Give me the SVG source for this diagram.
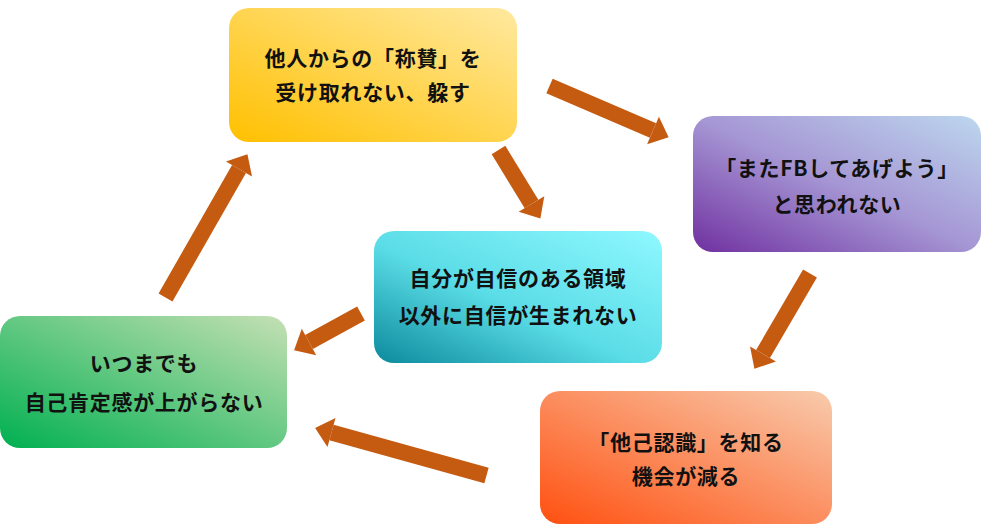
<svg xmlns="http://www.w3.org/2000/svg" width="983" height="529" viewBox="0 0 983 529">
<defs>
<linearGradient id="gY" x1="0" y1="1" x2="1" y2="0"><stop offset="0" stop-color="#FFC000"/><stop offset="1" stop-color="#FFE9A0"/></linearGradient>
<linearGradient id="gP" x1="0" y1="1" x2="1" y2="0"><stop offset="0" stop-color="#7030A0"/><stop offset="0.5" stop-color="#A596D4"/><stop offset="1" stop-color="#BDD7EE"/></linearGradient>
<linearGradient id="gG" x1="0" y1="1" x2="1" y2="0"><stop offset="0" stop-color="#00B050"/><stop offset="1" stop-color="#C5E0B4"/></linearGradient>
<linearGradient id="gC" x1="0" y1="1" x2="1" y2="0"><stop offset="0" stop-color="#0B8A9C"/><stop offset="0.45" stop-color="#5ADCE6"/><stop offset="1" stop-color="#8FF8FF"/></linearGradient>
<linearGradient id="gO" x1="0" y1="1" x2="1" y2="0"><stop offset="0" stop-color="#FF5010"/><stop offset="1" stop-color="#F8CBAD"/></linearGradient>
<marker id="ah" markerUnits="userSpaceOnUse" markerWidth="20" markerHeight="32" refX="0" refY="15" orient="auto" viewBox="0 0 20 30" overflow="visible">
<path d="M0,0 L17,15 L0,30 Z" fill="#C55A11"/>
</marker>
</defs>
<style>
.box{stroke:none}
.t{font-family:"Noto Sans CJK JP","Noto Sans",sans-serif;font-weight:700;font-size:21px;letter-spacing:0.7px;fill:#111;text-anchor:middle}
.c{stroke:#C55A11;stroke-width:16;fill:none;marker-end:url(#ah)}
</style>
<rect width="983" height="529" fill="#fff"/>
<g id="connectors">
<line class="c" x1="549.5" y1="86" x2="653" y2="130.5"/>
<line class="c" x1="498.5" y1="150" x2="531.5" y2="204"/>
<line class="c" x1="165.5" y1="297.5" x2="239" y2="169"/>
<line class="c" x1="361" y1="313.5" x2="309" y2="342"/>
<line class="c" x1="486.5" y1="475.5" x2="331.5" y2="432.5"/>
<line class="c" x1="810" y1="273.5" x2="763" y2="354"/>
</g>
<g id="node-praise">
<rect class="box" x="229" y="8" width="288" height="134" rx="20" fill="url(#gY)"/>
<text class="t" x="373" y="65.5">他人からの「称賛」を</text>
<text class="t" x="373" y="100">受け取れない、躱す</text>
</g>
<g id="node-fb">
<rect class="box" x="693" y="116" width="288" height="136" rx="20" fill="url(#gP)"/>
<text class="t" x="837" y="175.5">「またFBしてあげよう」</text>
<text class="t" x="837" y="212">と思われない</text>
</g>
<g id="node-confidence">
<rect class="box" x="374" y="231" width="288" height="132" rx="20" fill="url(#gC)"/>
<text class="t" x="518" y="286">自分が自信のある領域</text>
<text class="t" x="518" y="323">以外に自信が生まれない</text>
</g>
<g id="node-selfesteem">
<rect class="box" x="0" y="316" width="287" height="132" rx="20" fill="url(#gG)"/>
<text class="t" x="144" y="371">いつまでも</text>
<text class="t" x="144" y="410">自己肯定感が上がらない</text>
</g>
<g id="node-other">
<rect class="box" x="540" y="391" width="292" height="133" rx="20" fill="url(#gO)"/>
<text class="t" x="686" y="450">「他己認識」を知る</text>
<text class="t" x="686" y="484">機会が減る</text>
</g>
</svg>
